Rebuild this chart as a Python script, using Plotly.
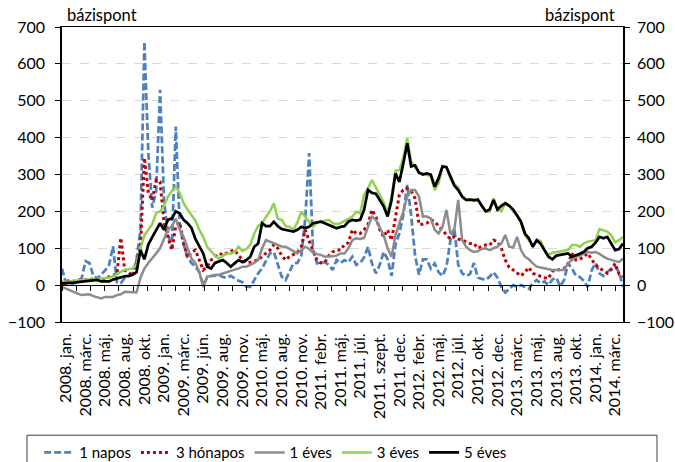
import plotly.graph_objects as go

# observation index (roughly weekly steps from 2008 Jan to 2014 Apr)
obs = list(range(144))

tick_labels = ["2008. jan.", "2008. márc.", "2008. máj.", "2008. aug.", "2008. okt.",
               "2009. jan.", "2009. márc.", "2009. jún.", "2009. aug.", "2009. nov.",
               "2010. máj.", "2010. aug.", "2010. nov.", "2011. febr.", "2011. máj.",
               "2011. júl.", "2011. szept.", "2011. dec.", "2012. febr.", "2012. máj.",
               "2012. júl.", "2012. okt.", "2012. dec.", "2013. márc.", "2013. máj.",
               "2013. aug.", "2013. okt.", "2014. jan.", "2014. márc."]
tick_pos = [1 + 5 * k for k in range(len(tick_labels))]

napos_1 = [45, 5, 2, 5, 8, 18, 65, 60, 25, 18, 28, 40, 55, 105, 8, 5, 20, 25, 30, 70,
           150, 660, 360, 210, 255, 530, 230, 140, 100, 430, 160, 110, 75, 60, 50, 35, 0, 20, 25, 25,
           28, 22, 20, 25, 18, 12, 8, -5, -5, 15, 32, 45, 65, 86, 90, 55, 23, 14, 35, 59,
           60, 80, 180, 358, 95, 59, 62, 62, 55, 41, 68, 60, 68, 62, 77, 55, 60, 75, 104, 59,
           32, 55, 90, 70, 25, 110, 140, 190, 272, 190, 80, 28, 70, 70, 45, 59, 35, 25, 50, 120,
           155, 55, 32, 25, 30, 60, 20, 18, 14, 23, 35, 20, -5, -20, -10, 0, -5, 0, -5, -10,
           5, 14, 5, 10, 0, 15, 20, -3, 14, 59, 45, 25, 22, 12, -5, 40, 60, 32, 25, 35,
           45, 50, 35, -5]

honapos_3 = [0, 10, 12, 10, 14, 14, 15, 15, 18, 16, 15, 18, 23, 27, 30, 128, 40, 35, 25, 60,
             100, 345, 250, 230, 285, 280, 170, 130, 95, 160, 170, 115, 75, 90, 95, 68, 41, 50, 68, 75,
             86, 82, 88, 92, 95, 80, 70, 60, 62, 66, 68, 78, 86, 95, 110, 100, 80, 68, 78, 82,
             88, 104, 150, 120, 95, 68, 60, 62, 80, 90, 95, 95, 110, 115, 150, 140, 140, 150, 165, 204,
             186, 150, 131, 150, 122, 190, 245, 258, 263, 255, 235, 165, 165, 168, 177, 172, 160, 150, 135, 125,
             131, 125, 122, 118, 113, 113, 100, 105, 109, 108, 122, 118, 100, 68, 48, 41, 34, 25, 35, 48,
             32, 28, 23, 20, 18, 38, 40, 42, 45, 59, 86, 68, 70, 77, 86, 70, 55, 45, 40, 32,
             42, 59, 30, 23]

eves_1 = [-5, -10, -14, -20, -23, -27, -27, -25, -30, -32, -36, -32, -33, -32, -27, -25, -18, -18, -20, -20,
          20, 45, 60, 72, 86, 100, 125, 150, 160, 180, 150, 131, 100, 72, 60, 35, -5, 23, 25, 28,
          28, 32, 35, 40, 42, 45, 50, 50, 55, 60, 68, 100, 122, 118, 112, 110, 105, 104, 98, 92,
          86, 95, 104, 98, 88, 84, 82, 77, 77, 78, 80, 86, 86, 100, 122, 127, 125, 128, 158, 186,
          177, 155, 135, 100, 77, 135, 165, 200, 240, 258, 258, 240, 186, 186, 181, 150, 140, 158, 204, 140,
          150, 231, 122, 104, 95, 90, 92, 98, 100, 95, 100, 104, 113, 136, 104, 102, 131, 95, 77, 70,
          59, 50, 48, 45, 42, 41, 41, 41, 41, 59, 68, 77, 80, 86, 90, 88, 90, 85, 77, 72,
          68, 65, 63, 72]

eves_3 = [9, 9, 10, 12, 13, 14, 14, 15, 15, 16, 17, 18, 20, 24, 30, 36, 42, 43, 45, 55,
          100, 135, 150, 165, 195, 200, 215, 240, 255, 267, 250, 222, 205, 190, 175, 150, 131, 104, 92, 80,
          72, 80, 85, 86, 90, 104, 92, 98, 110, 140, 160, 168, 185, 200, 222, 180, 177, 160, 158, 150,
          170, 199, 185, 172, 158, 170, 172, 175, 177, 168, 165, 168, 175, 180, 186, 199, 195, 245, 262, 285,
          265, 245, 225, 195, 240, 310, 312, 345, 398, 335, 320, 305, 303, 300, 295, 258, 276, 322, 320, 290,
          274, 265, 240, 231, 232, 232, 230, 215, 200, 200, 235, 208, 200, 222, 217, 200, 190, 170, 136, 122,
          105, 122, 120, 95, 82, 88, 90, 90, 93, 95, 109, 109, 104, 113, 118, 120, 122, 152, 148, 145,
          135, 116, 122, 131]

eves_5 = [5, 5, 6, 7, 8, 9, 10, 12, 13, 14, 10, 9, 10, 15, 18, 22, 24, 25, 28, 35,
          95, 70, 110, 130, 150, 168, 150, 177, 181, 200, 195, 177, 168, 155, 125, 104, 86, 50, 45, 60,
          65, 68, 60, 50, 59, 68, 62, 68, 77, 104, 113, 168, 160, 160, 172, 160, 152, 150, 148, 145,
          150, 158, 155, 158, 168, 170, 172, 168, 163, 158, 154, 158, 160, 172, 177, 175, 177, 204, 258, 250,
          248, 231, 213, 186, 230, 303, 280, 330, 385, 322, 325, 305, 300, 303, 300, 267, 290, 322, 320, 295,
          270, 258, 240, 231, 232, 230, 232, 215, 200, 205, 231, 205, 215, 222, 215, 205, 190, 172, 140, 127,
          104, 122, 112, 95, 77, 70, 80, 82, 85, 86, 77, 80, 85, 90, 100, 104, 115, 131, 127, 131,
          113, 95, 98, 113]

FONT = "Lato"

fig = go.Figure()
fig.add_trace(go.Scatter(x=obs, y=napos_1, name="1 napos", mode="lines",
                         line=dict(color="#4F81BD", width=2.75, dash="7px,3px")))
fig.add_trace(go.Scatter(x=obs, y=honapos_3, name="3 hónapos", mode="lines",
                         line=dict(color="#C00000", width=3, dash="3px,3px")))
fig.add_trace(go.Scatter(x=obs, y=eves_1, name="1 éves", mode="lines",
                         line=dict(color="#8C8C8C", width=2.5)))
fig.add_trace(go.Scatter(x=obs, y=eves_3, name="3 éves", mode="lines",
                         line=dict(color="#92D050", width=2.5)))
fig.add_trace(go.Scatter(x=obs, y=eves_5, name="5 éves", mode="lines",
                         line=dict(color="#000000", width=2.75)))
# empty helper trace so the right-hand axis and the zero-line tick axis are drawn
fig.add_trace(go.Scatter(x=[], y=[], xaxis="x2", yaxis="y2", showlegend=False,
                         hoverinfo="skip", mode="lines"))

xr = [0, 143]
fig.update_layout(
    width=675, height=462,
    margin=dict(l=62, r=52, t=27, b=140, autoexpand=False),
    paper_bgcolor="white", plot_bgcolor="white",
    font=dict(family=FONT, size=14, color="black"),
    showlegend=True,
    legend=dict(orientation="h", yref="container", y=0.056, yanchor="top",
                xref="container", x=0.058, xanchor="left",
                font=dict(size=15), itemwidth=30, bgcolor="rgba(0,0,0,0)",
                tracegroupgap=0),
    xaxis=dict(range=xr, tickmode="array", tickvals=tick_pos, ticktext=tick_labels,
               tickangle=-90, ticks="", showgrid=False, zeroline=False,
               showline=True, linecolor="black", linewidth=1, mirror=True,
               tickfont=dict(size=16), ticklabelstandoff=4),
    xaxis2=dict(range=xr, overlaying="x", anchor="free", position=0.125,
                ticks="outside", ticklen=5, tickcolor="black", tick0=0, dtick=3.62,
                showticklabels=False, showgrid=False, zeroline=False,
                showline=True, linecolor="black", linewidth=1),
    yaxis=dict(range=[-100, 700], dtick=100, ticks="outside", ticklen=5, tickcolor="black",
               showline=True, linecolor="black", linewidth=1.5,
               showgrid=True, gridcolor="#D9D9D9", griddash="dash", gridwidth=1,
               zeroline=False, tickfont=dict(size=16), ticklabelstandoff=7),
    yaxis2=dict(range=[-100, 700], dtick=100, overlaying="y", side="right", anchor="x",
                ticks="outside", ticklen=5, tickcolor="black",
                showline=True, linecolor="black", linewidth=1.5,
                showgrid=False, zeroline=False, tickfont=dict(size=16), ticklabelstandoff=4),
    annotations=[
        dict(text="bázispont", xref="paper", yref="paper", x=0.005, y=1.0, xanchor="left",
             yanchor="bottom", showarrow=False, font=dict(size=16.5)),
        dict(text="bázispont", xref="paper", yref="paper", x=0.99, y=1.0, xanchor="right",
             yanchor="bottom", showarrow=False, font=dict(size=16.5)),
    ],
    shapes=[dict(type="rect", xref="paper", yref="paper", x0=-0.0624, x1=1.0606,
                 y0=-0.3837, y1=-0.52, line=dict(color="#404040", width=1))],
)

fig.write_html("out.html", config={"displayModeBar": False},
               post_script="document.body.style.margin='0px';")
